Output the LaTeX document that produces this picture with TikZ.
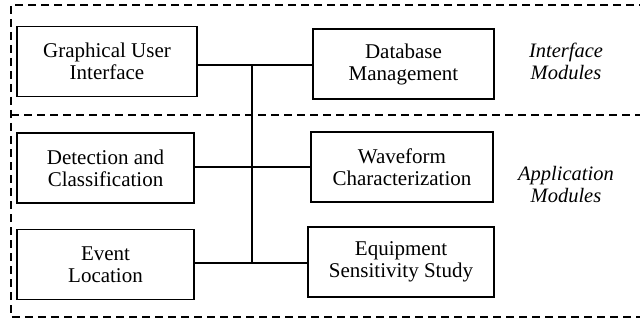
\documentclass[tikz,border=0pt]{standalone}
\usepackage{fontspec}
\setmainfont{Liberation Serif}
\begin{document}
\begin{tikzpicture}[x=1pt,y=-1pt,
  modbox/.style={draw,line width=1.6pt,minimum height=70pt,align=center,inner sep=0pt,font=\fontsize{21}{22}\selectfont},
  wire/.style={line width=1.4pt},
  grp/.style={line width=1.4pt,dash pattern=on 8pt off 5pt},
  lbl/.style={align=center,font=\fontsize{20.5}{22}\selectfont\itshape}]
\useasboundingbox (0,0) rectangle (640,321);
\begin{scope}
\clip (0,0) rectangle (640,321);
\draw[grp] (660,5) -- (11,5) -- (11,317) -- (660,317);
\draw[grp] (11,115) -- (660,115);
\end{scope}
\node[modbox,minimum width=180pt] (gui) at (107,61.5) {Graphical User\\Interface};
\node[modbox,minimum width=181pt] (db) at (403.5,64) {Database\\Management};
\node[modbox,minimum width=177pt] (det) at (105.5,168) {Detection and\\Classification};
\node[modbox,minimum width=182pt] (wav) at (402,167) {Waveform\\Characterization};
\node[modbox,minimum width=177pt] (ev) at (105.5,264.5) {Event\\Location};
\node[modbox,minimum width=186pt] (eq) at (401,262) {Equipment\\Sensitivity Study};
\node[lbl] (il) at (566,61) {Interface\\Modules};
\node[lbl] (al) at (566,185) {Application\\Modules};
\coordinate (top) at (252,65);
\coordinate (bot) at (252,263);
\draw[wire] (gui.east |- top) -- (db.west |- top);
\draw[wire] (det.east |- 0,167) -- (wav.west |- 0,167);
\draw[wire] (ev.east |- bot) -- (eq.west |- bot);
\draw[wire] (top) -- (bot);
\end{tikzpicture}
\end{document}
